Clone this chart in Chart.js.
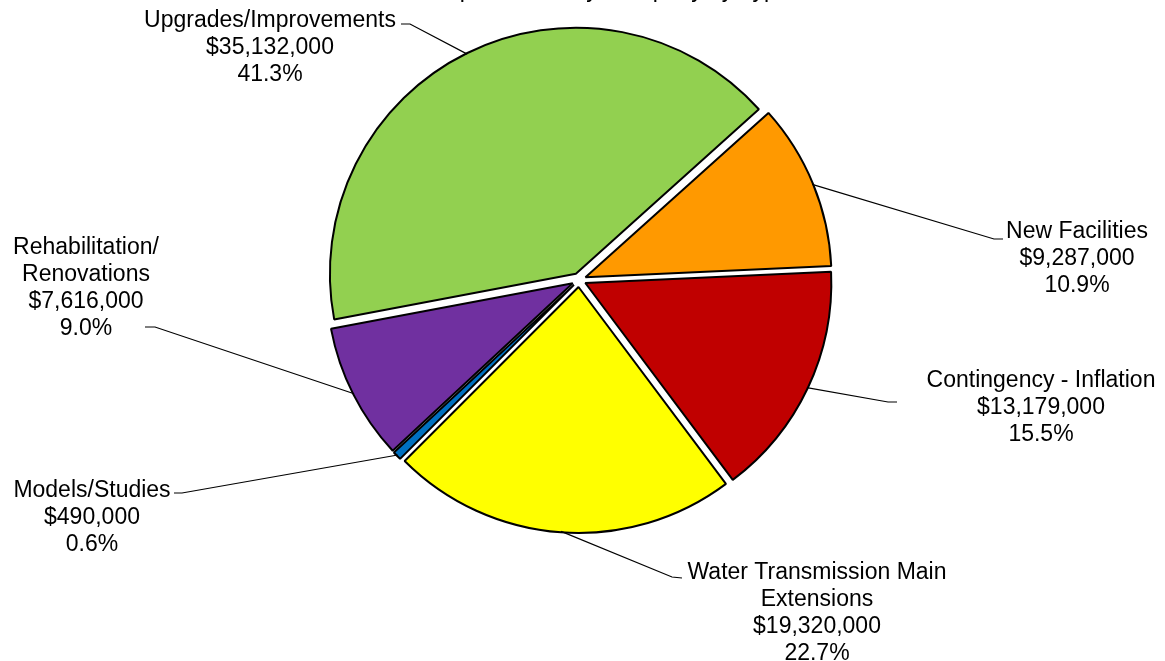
<!DOCTYPE html>
<html>
<head>
<meta charset="utf-8">
<script src="https://cdn.jsdelivr.net/npm/chart.js@4.4.1/dist/chart.umd.min.js"></script>
<style>
  html, body { margin: 0; padding: 0; background: #fff; }
  #wrap { width: 1165px; height: 661px; position: relative; }
</style>
</head>
<body>
<div id="wrap"><canvas id="pie"></canvas></div>
<script>
const categories = [
    ['Upgrades/Improvements'],
    ['New Facilities'],
    ['Contingency - Inflation'],
    ['Water Transmission Main', 'Extensions'],
    ['Models/Studies'],
    ['Rehabilitation/', 'Renovations']
];
const costs = [35132000, 9287000, 13179000, 19320000, 490000, 7616000];
const sliceColors = ['#92D050', '#FF9900', '#C00000', '#FFFF00', '#0070C0', '#7030A0'];
const titleText = 'Capital Costs by Company by Type';

// where each label sits: centre x, first baseline, and the leader line elbow / end
const labelLayout = [
    { x: 270, y: 27, elbow: [410, 24], end: [401, 24] },
    { x: 1077, y: 238, elbow: [994, 239], end: [1003, 239] },
    { x: 1041, y: 387, elbow: [888, 402], end: [897, 402] },
    { x: 817, y: 579, elbow: [672, 577], end: [682, 578] },
    { x: 92, y: 497, elbow: [182, 493], end: [174, 493] },
    { x: 86, y: 254, elbow: [155, 327], end: [145, 327] }
];

const EXPLODE = 7;
const FONT = '23px "Liberation Sans", Arial, Helvetica, sans-serif';
const LINE_H = 26.9;

// pull every slice out along its middle angle
const explodedPie = {
    id: 'explodedPie',
    beforeDatasetDraw(chart, args) {
        const ctx = chart.ctx;
        args.meta.data.forEach(arc => {
            const mid = (arc.startAngle + arc.endAngle) / 2;
            ctx.save();
            ctx.translate(Math.cos(mid) * EXPLODE, Math.sin(mid) * EXPLODE);
            arc.draw(ctx);
            ctx.restore();
        });
        return false;
    }
};

// data labels with leader lines
const leaderLabels = {
    id: 'leaderLabels',
    afterDraw(chart) {
        const ctx = chart.ctx;
        const arcs = chart.getDatasetMeta(0).data;
        const total = costs.reduce((a, b) => a + b, 0);
        ctx.save();
        ctx.strokeStyle = '#000';
        ctx.lineWidth = 1.2;
        ctx.font = FONT;
        ctx.fillStyle = '#000';
        ctx.textAlign = 'center';
        ctx.textBaseline = 'alphabetic';
        arcs.forEach((arc, i) => {
            const mid = (arc.startAngle + arc.endAngle) / 2;
            const r = arc.outerRadius + EXPLODE - 1;
            const px = arc.x + Math.cos(mid) * r;
            const py = arc.y + Math.sin(mid) * r;
            const L = labelLayout[i];
            ctx.beginPath();
            ctx.moveTo(px, py);
            ctx.lineTo(L.elbow[0], L.elbow[1]);
            ctx.lineTo(L.end[0], L.end[1]);
            ctx.stroke();
            const lines = [
                ...categories[i],
                '$' + costs[i].toLocaleString('en-US'),
                (costs[i] / total * 100).toFixed(1) + '%'
            ];
            lines.forEach((t, j) => ctx.fillText(t, L.x, L.y + j * LINE_H));
        });
        // title sits mostly above the visible area
        ctx.fillText(titleText, 610, -3);
        ctx.restore();
    }
};

new Chart(document.getElementById('pie'), {
    type: 'pie',
    data: {
        labels: categories.map(c => c.join(' ')),
        datasets: [{
            data: costs,
            backgroundColor: sliceColors,
            borderColor: '#000',
            borderWidth: 2
        }]
    },
    options: {
        responsive: true,
        maintainAspectRatio: false,
        animation: false,
        rotation: -100.7,
        radius: 246,
        layout: { padding: { left: 0, right: 7, top: 0, bottom: 101 } },
        plugins: {
            legend: { display: false },
            tooltip: { enabled: false }
        }
    },
    plugins: [explodedPie, leaderLabels]
});
</script>
</body>
</html>
